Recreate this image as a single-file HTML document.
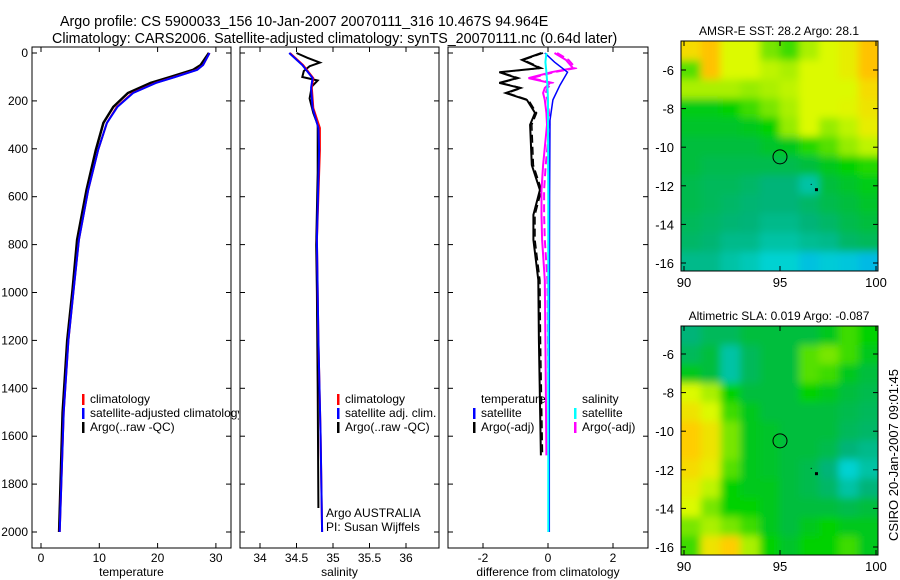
<!DOCTYPE html>
<html><head><meta charset="utf-8"><style>
body{margin:0;background:#fff}
svg{display:block;font-family:"Liberation Sans",sans-serif}
</style></head><body>
<svg id="c" width="900" height="580" viewBox="0 0 900 580" xmlns="http://www.w3.org/2000/svg">
<defs>
<clipPath id="cp1"><rect x="32" y="47" width="199" height="501"/></clipPath>
<clipPath id="cp2"><rect x="240" y="47" width="199" height="501"/></clipPath>
<clipPath id="cp3"><rect x="448" y="47" width="200" height="501"/></clipPath>
<clipPath id="cpl1"><rect x="0" y="0" width="239" height="580"/></clipPath>
<clipPath id="cm1"><rect x="681" y="41" width="197" height="230"/></clipPath>
<clipPath id="cm2"><rect x="681" y="326" width="197" height="229"/></clipPath>
<filter id="bl" x="-10%" y="-10%" width="120%" height="120%"><feGaussianBlur stdDeviation="4"/></filter>
</defs>
<text x="60" y="26" font-size="14.3">Argo profile: CS 5900033_156 10-Jan-2007 20070111_316 10.467S 94.964E</text>
<text x="52" y="43" font-size="14.3">Climatology: CARS2006. Satellite-adjusted climatology: synTS_20070111.nc (0.64d later)</text>
<g id="g"></g>
</svg>
<script>
// ---- data ----
const depthTicks=[0,200,400,600,800,1000,1200,1400,1600,1800,2000];
const tempTicks=[0,10,20,30];
const salTicks=[34,34.5,35,35.5,36];
const diffTicks=[-2,0,2];
const tDepth=[0,50,70,100,125,167,225,292,405,572,780,990,1200,1500,2000];
const tClim=[28.9,27.8,26.7,22.9,19.6,15.7,13.0,11.3,9.8,8.1,6.5,5.6,4.7,3.9,3.2];
const tSat=[28.9,27.8,26.8,23.0,19.7,15.8,13.1,11.3,9.8,8.1,6.5,5.6,4.7,3.9,3.2];
const tArgo=[28.8,27.4,26.1,22.2,18.8,14.9,12.4,10.7,9.4,7.8,6.2,5.4,4.5,3.7,3.1];
const sDepth=[0,50,105,145,230,313,405,780,1200,1600,2000];
const sClim=[34.41,34.59,34.73,34.71,34.73,34.82,34.82,34.78,34.8,34.83,34.85];
const sSat=[34.40,34.58,34.72,34.70,34.72,34.80,34.81,34.78,34.8,34.83,34.85];
const aDepth=[0,20,40,55,75,100,115,140,190,250,300,500,800,1000,1400,1900];
const sArgo=[34.5,34.65,34.82,34.68,34.6,34.58,34.79,34.71,34.68,34.73,34.79,34.79,34.77,34.78,34.79,34.8];
const dDepth=[0,29,63,80,105,125,146,167,196,250,300,468,572,676,780,948,1200,1680];
const dTArgo=[-0.2,-0.8,-0.25,-1.5,-0.95,-1.5,-0.85,-1.3,-0.65,-0.4,-0.55,-0.5,-0.25,-0.45,-0.45,-0.3,-0.28,-0.22];
const dSArgo=[0.2,0.55,0.77,0.1,-0.6,0.06,-0.1,-0.15,-0.1,-0.05,-0.03,-0.15,-0.2,-0.2,-0.18,-0.1,-0.08,-0.05];
const sdDepth=[0,38,80,134,196,280,600,1200,2000];
const dTSat=[-0.1,0.2,0.6,0.37,0.15,0.06,0.05,0.04,0.04];
const dSSat=[-0.05,-0.08,-0.05,-0.02,0,0,0.01,0.01,0.01];
const lonTicks=[90,95,100];
const latTicks=[-6,-8,-10,-12,-14,-16];
const sstGrid=[
[0.82,0.88,0.75,0.75,0.65,0.6,0.7,0.75,0.78,0.88],
[0.62,0.88,0.75,0.75,0.72,0.7,0.75,0.75,0.78,0.88],
[0.7,0.7,0.7,0.68,0.7,0.72,0.75,0.75,0.75,0.82],
[0.52,0.52,0.55,0.6,0.65,0.7,0.75,0.75,0.76,0.8],
[0.48,0.48,0.48,0.5,0.55,0.68,0.75,0.68,0.72,0.78],
[0.45,0.45,0.45,0.45,0.48,0.5,0.58,0.62,0.68,0.72],
[0.45,0.42,0.42,0.42,0.42,0.42,0.45,0.5,0.55,0.58],
[0.42,0.4,0.4,0.38,0.35,0.35,0.3,0.45,0.48,0.52],
[0.42,0.4,0.38,0.36,0.35,0.35,0.38,0.42,0.45,0.48],
[0.4,0.38,0.36,0.35,0.33,0.33,0.35,0.38,0.42,0.45],
[0.38,0.36,0.33,0.33,0.3,0.3,0.32,0.33,0.38,0.4],
[0.33,0.33,0.3,0.28,0.25,0.25,0.18,0.22,0.2,0.15]];
const slaGrid=[
[0.35,0.4,0.4,0.45,0.45,0.45,0.45,0.5,0.6,0.55],
[0.4,0.45,0.3,0.4,0.45,0.45,0.62,0.65,0.6,0.5],
[0.5,0.45,0.3,0.4,0.45,0.45,0.62,0.6,0.5,0.45],
[0.75,0.7,0.55,0.45,0.45,0.45,0.55,0.5,0.45,0.42],
[0.8,0.75,0.6,0.5,0.45,0.45,0.45,0.45,0.42,0.4],
[0.85,0.8,0.65,0.5,0.48,0.45,0.45,0.45,0.4,0.38],
[0.85,0.8,0.65,0.5,0.48,0.45,0.45,0.42,0.35,0.33],
[0.82,0.78,0.62,0.5,0.48,0.45,0.42,0.35,0.25,0.3],
[0.78,0.72,0.55,0.5,0.5,0.45,0.42,0.38,0.3,0.35],
[0.75,0.65,0.55,0.55,0.5,0.45,0.45,0.45,0.42,0.45],
[0.65,0.7,0.65,0.6,0.5,0.45,0.5,0.55,0.5,0.5],
[0.6,0.8,0.85,0.7,0.55,0.48,0.55,0.55,0.6,0.5]];
// ---- scales ----
const NS='http://www.w3.org/2000/svg';
const G=document.getElementById('g');
const yD=d=>53+d*0.2395;
const xT=t=>41+t*5.83;
const xS=s=>260+(s-34)*73;
const xDf=v=>548+v*32.5;
const mx1=lon=>684+(lon-90)*19.2;
const my1=lat=>70+(-6-lat)*19.3;
const my2=lat=>354+(-6-lat)*19.3;
function el(tag,attrs,parent){const e=document.createElementNS(NS,tag);for(const k in attrs)e.setAttribute(k,attrs[k]);(parent||G).appendChild(e);return e;}
function txt(x,y,s,anchor,parent,size){const t=el('text',{x:x,y:y,'font-size':size||12,'text-anchor':anchor||'start'},parent);t.textContent=s;return t;}
function line(xs,ds,xf,color,w,dash,parent,name){
 const pts=xs.map((v,i)=>xf(v).toFixed(1)+','+yD(ds[i]).toFixed(1)).join(' ');
 const p=el('polyline',{points:pts,fill:'none',stroke:color,'stroke-width':w},parent);
 if(dash)p.setAttribute('stroke-dasharray',dash);
 
 
 return p;}
function panel(x0,w,name,ticks,xf,label,cp){
 const g=el('g',{});
 
 
 el('rect',{x:x0,y:47,width:w,height:501,fill:'#fff',stroke:'#000','stroke-width':1},g);
 depthTicks.forEach(d=>{el('line',{x1:x0,x2:x0+5,y1:yD(d),y2:yD(d),stroke:'#000'},g);el('line',{x1:x0+w-5,x2:x0+w,y1:yD(d),y2:yD(d),stroke:'#000'},g);});
 ticks.forEach(t=>{const x=xf(t);el('line',{x1:x,x2:x,y1:548,y2:543,stroke:'#000'},g);el('line',{x1:x,x2:x,y1:47,y2:52,stroke:'#000'},g);
  const tl=txt(x,562,String(t),'middle',g);});
 const xl=txt(x0+w/2,576,label,'middle',g);
 
 
 const inner=el('g',{'clip-path':'url(#'+cp+')'},g);
 return [g,inner];}
// depth labels
depthTicks.forEach(d=>{const t=txt(28,yD(d)+4,String(d),'end');});
// panel 1
let [g1,i1]=panel(32,199,'temperature-panel',tempTicks,xT,'temperature','cp1');
line(tArgo,tDepth,xT,'#000',2.5,null,i1,'temp-argo-line');
line(tClim,tDepth,xT,'#f00',2,null,i1,'temp-climatology-line');
line(tSat,tDepth,xT,'#00f',2,null,i1,'temp-satellite-line');
// panel 2
let [g2,i2]=panel(240,199,'salinity-panel',salTicks,xS,'salinity','cp2');
line(sArgo,aDepth,xS,'#000',2,null,i2,'sal-argo-line');
line(sClim,sDepth,xS,'#f00',2,null,i2,'sal-climatology-line');
line(sSat,sDepth,xS,'#00f',2,null,i2,'sal-satellite-line');
// panel 3
let [g3,i3]=panel(448,200,'difference-panel',diffTicks,xDf,'difference from climatology','cp3');
line(dTArgo.map(v=>v+0.05),dDepth,xDf,'#000',1.5,'8,4',i3,'temp-diff-raw-dashed');
line(dTArgo,dDepth,xDf,'#000',2,null,i3,'temp-diff-argo-line');
line(dSArgo.map(v=>v+0.08),dDepth,xDf,'#f0f',2,'8,4',i3,'sal-diff-raw-dashed');
line(dSArgo,dDepth,xDf,'#f0f',2,null,i3,'sal-diff-argo-line');
line(dTSat,sdDepth,xDf,'#00f',1.5,null,i3,'temp-diff-satellite-line');
line(dSSat,sdDepth,xDf,'#0ff',2,null,i3,'sal-diff-satellite-line');
// legends
function legend(x,y,color,label,name,parent){
 const g=el('g',{},parent);
 
 
 if(color)el('rect',{x:x-8,y:y-9,width:2.5,height:11,fill:color},g);
 txt(x,y,label,'start',g);}
const lg1=el('g',{'clip-path':'url(#cpl1)'});
legend(90,403,'#f00','climatology','legend-climatology',lg1);
legend(90,417,'#00f','satellite-adjusted climatology','legend-satellite-adjusted',lg1);
legend(90,431,'#000','Argo(..raw -QC)','legend-argo',lg1);
legend(345,403,'#f00','climatology','legend-climatology');
legend(345,417,'#00f','satellite adj. clim.','legend-satellite-adj');
legend(345,431,'#000','Argo(..raw -QC)','legend-argo');
legend(481,403,null,'temperature','legend-temperature-header');
legend(481,417,'#00f','satellite','legend-temp-satellite');
legend(481,431,'#000','Argo(-adj)','legend-temp-argo');
legend(582,403,null,'salinity','legend-salinity-header');
legend(582,417,'#0ff','satellite','legend-sal-satellite');
legend(582,431,'#f0f','Argo(-adj)','legend-sal-argo');
const a1=txt(326,517,'Argo AUSTRALIA');
const a2=txt(326,531,'PI: Susan Wijffels');
// colormap
const cstops=[[0,[0,150,255]],[0.25,[0,210,210]],[0.35,[0,180,120]],[0.45,[0,190,60]],[0.55,[0,210,0]],[0.65,[120,230,0]],[0.75,[220,250,0]],[0.85,[255,205,0]],[1,[255,150,0]]];
function cmap(v){for(let i=1;i<cstops.length;i++){if(v<=cstops[i][0]){const a=cstops[i-1],b=cstops[i];const f=(v-a[0])/(b[0]-a[0]);return 'rgb('+a[1].map((c,k)=>Math.round(c+(b[1][k]-c)*f)).join(',')+')';}}return 'rgb(255,150,0)';}
function map(grid,y0,h,my,cp,name,title){
 const g=el('g',{});
 
 
 const tt=txt(779,y0-6,title,'middle',g);
 
 
 const cg=el('g',{'clip-path':'url(#'+cp+')'},g);
 const fg=el('g',{filter:'url(#bl)'},cg);
 const nr=grid.length,nc=grid[0].length,cw=197/nc,ch=h/nr;
 grid.forEach((row,r)=>row.forEach((v,c)=>{
  let x=681+c*cw,y=y0+r*ch,w=cw+0.5,hh=ch+0.5;
  if(c==0){x-=20;w+=20;} if(c==nc-1)w+=20; if(r==0){y-=20;hh+=20;} if(r==nr-1)hh+=20;
  const cell=el('rect',{x:x,y:y,width:w,height:hh,fill:cmap(v)},fg);
  
  
 }));
 el('rect',{x:681,y:y0,width:197,height:h,fill:'none',stroke:'#000'},g);
 el('circle',{cx:mx1(95),cy:my(-10.5),r:7,fill:'none',stroke:'#000'},g);
 el('rect',{x:mx1(96.9)-1.5,y:my(-12.2)-1.5,width:3,height:3,fill:'#000'},g);
 el('rect',{x:mx1(96.6),y:my(-11.9),width:1,height:1,fill:'#000'},g);
 lonTicks.forEach(l=>{const x=mx1(l);el('line',{x1:x,x2:x,y1:y0+h,y2:y0+h-5,stroke:'#000'},g);el('line',{x1:x,x2:x,y1:y0,y2:y0+5,stroke:'#000'},g);const t=txt(x,y0+h+16,String(l),'middle',g,13);});
 latTicks.forEach(l=>{const y=my(l);el('line',{x1:681,x2:686,y1:y,y2:y,stroke:'#000'},g);el('line',{x1:873,x2:878,y1:y,y2:y,stroke:'#000'},g);const t=txt(674,y+5,String(l),'end',g,13);});
}
map(sstGrid,41,230,my1,'cm1','sst-map','AMSR-E SST: 28.2 Argo: 28.1');
map(slaGrid,326,229,my2,'cm2','sla-map','Altimetric SLA: 0.019 Argo: -0.087');
const ts=txt(0,0,'CSIRO 20-Jan-2007 09:01:45','middle',null,13);
ts.setAttribute('transform','translate(898,455) rotate(-90)');


</script>
</body></html>
